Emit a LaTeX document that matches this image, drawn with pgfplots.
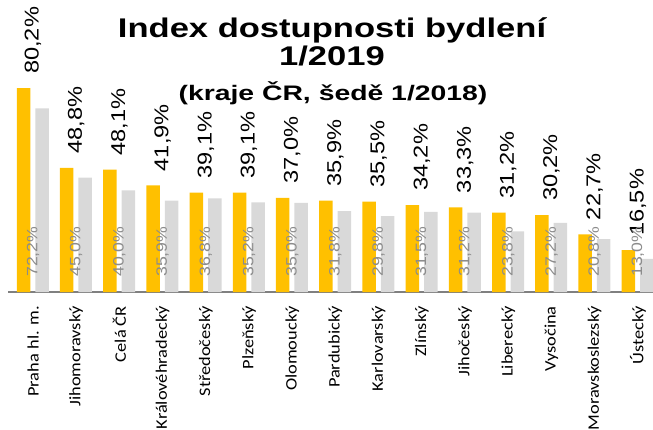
\documentclass[border=0pt]{standalone}
\usepackage{fontspec}
\usepackage{pgfplots}
\usepackage{pgfplotstable}
\pgfplotsset{compat=1.18}
\setmainfont{Liberation Sans}
\newfontfamily\titlefont[FakeStretch=1.28]{Liberation Sans}
\newfontfamily\subfont[FakeStretch=1.35]{Liberation Sans}
\newfontfamily\valfont[FakeStretch=1.18]{Liberation Sans}
\newfontfamily\tickfont[FakeStretch=1.15]{Carlito}
\definecolor{gold}{HTML}{FFC000}
\definecolor{lgray}{HTML}{D9D9D9}
\definecolor{lbl}{HTML}{8C8C8C}
\definecolor{axisgray}{HTML}{808080}

% x = poradi kraje, cur = 1/2019, prev = 1/2018
\pgfplotstableread{
x cur prev
0 80.2 72.2
1 48.8 45.0
2 48.1 40.0
3 41.9 35.9
4 39.1 36.8
5 39.1 35.2
6 37.0 35.0
7 35.9 31.8
8 35.5 29.8
9 34.2 31.5
10 33.3 31.2
11 31.2 23.8
12 30.2 27.2
13 22.7 20.8
14 16.5 13.0
}\idx

\begin{document}
\begin{tikzpicture}
\begin{axis}[
  at={(8bp,138bp)}, anchor=south west,
  scale only axis,
  width=645bp, height=292bp,
  xmin=-0.579, xmax=14.35,
  ymin=0, ymax=114.8,
  clip=false,
  axis x line=bottom,
  axis y line=none,
  axis line style={draw=axisgray, line width=1.5bp, -},
  major tick length=0pt,
  xtick=data,
  xticklabels={Praha hl. m., Jihomoravský, Celá ČR, Královéhradecký, Středočeský, Plzeňský, Olomoucký, Pardubický, Karlovarský, Zlínský, Jihočeský, Liberecký, Vysočina, Moravskoslezský, Ústecký},
  xticklabel shift=14bp,
  xticklabel style={rotate=90, anchor=east, inner sep=0pt,
    font=\tickfont\fontsize{16bp}{18bp}\selectfont, text=black},
  /pgf/number format/.cd, fixed, fixed zerofill, precision=1, use comma, assume math mode=true,
]
\addplot[ybar, bar width=13.5bp, bar shift=-9.5bp, fill=gold, draw=none,
  nodes near coords={\pgfmathprintnumber{\pgfplotspointmeta}\%},
  nodes near coords style={rotate=90, anchor=west, inner xsep=14bp, inner ysep=0pt,
    font=\valfont\fontsize{20bp}{22bp}\selectfont, text=black}]
  table[x=x, y=cur] {\idx};
\addplot[ybar, bar width=13.5bp, bar shift=9bp, fill=lgray, draw=none]
  table[x=x, y=prev] {\idx};
\addplot[ybar, bar width=13.5bp, bar shift=9bp, fill=none, draw=none,
  point meta=\thisrow{prev},
  nodes near coords={\pgfmathprintnumber{\pgfplotspointmeta}\%},
  nodes near coords style={rotate=90, anchor=west, inner xsep=15bp, inner ysep=0pt,
    font=\valfont\fontsize{15bp}{17bp}\selectfont, text=lbl}]
  table[x=x, y expr=0] {\idx};
\end{axis}
\node[font=\titlefont\bfseries\fontsize{27bp}{30bp}\selectfont] at (332bp,400bp) {Index dostupnosti bydlení};
\node[font=\titlefont\bfseries\fontsize{27bp}{30bp}\selectfont] at (332bp,374bp) {1/2019};
\node[font=\subfont\bfseries\fontsize{21bp}{24bp}\selectfont] at (333bp,337bp) {(kraje ČR, šedě 1/2018)};
\pgfresetboundingbox
\path (0,0) rectangle (653bp,430bp);
\end{tikzpicture}
\end{document}
